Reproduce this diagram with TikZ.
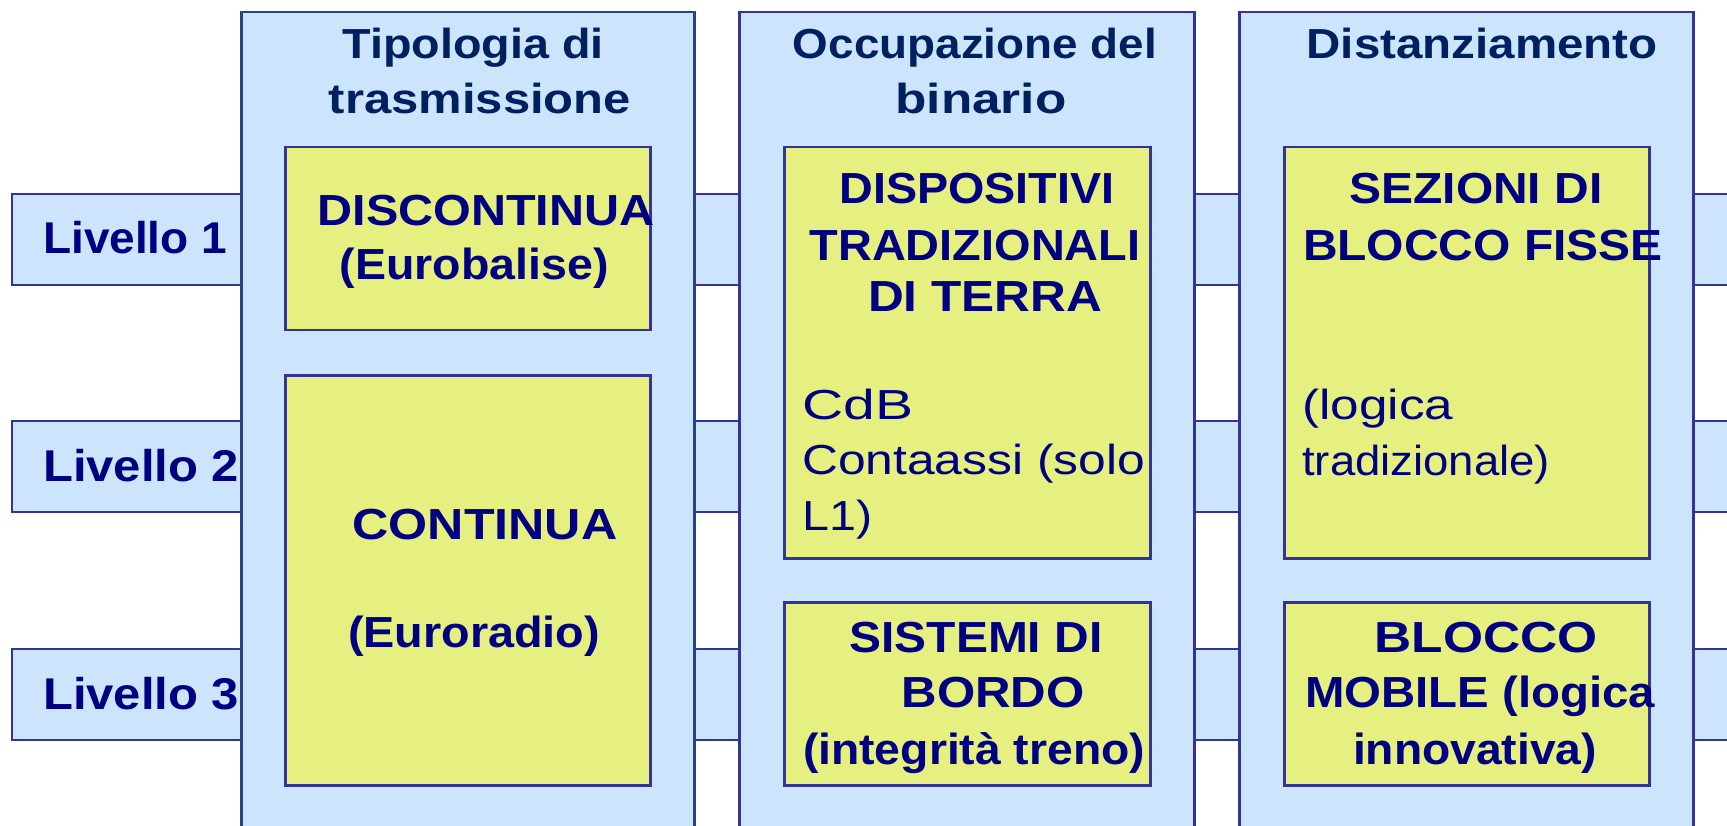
\documentclass[tikz,border=0pt]{standalone}
\usepackage{fontspec}
\setmainfont{Liberation Sans}
\usepackage{graphicx}
\definecolor{colfill}{RGB}{204,228,252}
\definecolor{ybox}{RGB}{230,240,128}
\definecolor{navytext}{RGB}{0,0,128}
\definecolor{titlecol}{RGB}{0,32,96}
\definecolor{boxdraw}{RGB}{51,51,153}
\definecolor{colone}{RGB}{38,70,130}
\newcommand{\fw}[2]{\resizebox{#1pt}{\height}{#2}}
\begin{document}
\begin{tikzpicture}[x=1pt,y=-1pt,
  band/.style={draw=boxdraw, fill=colfill, line width=2pt, rectangle, inner sep=0, anchor=north west, minimum width=1729, minimum height=91},
  column/.style={draw=boxdraw, fill=colfill, line width=2.5pt, rectangle, inner sep=0, anchor=north west, minimum height=840},
  ybx/.style={draw=boxdraw, fill=ybox, line width=2.5pt, rectangle, inner sep=0, anchor=north west, minimum width=365},
  ttl/.style={font=\bfseries\fontsize{42}{50}\selectfont, text=titlecol, inner sep=0, anchor=base},
  bx/.style={font=\bfseries\fontsize{43.5}{52}\selectfont, text=navytext, inner sep=0, anchor=base},
  rg/.style={font=\fontsize{42}{52}\selectfont, text=navytext, inner sep=0, anchor=base west},
  lv/.style={font=\bfseries\fontsize{44.5}{52}\selectfont, text=navytext, inner sep=0, anchor=base west}
]
\useasboundingbox (0,0) rectangle (1727,826);
\fill[white] (0,0) rectangle (1727,826);
\clip (0,0) rectangle (1727,826);
% level bands
\node[band] (band1) at (11,193) {};
\node[band] (band2) at (11,420) {};
\node[band] (band3) at (11,648) {};
% columns
\node[column, draw=colone, minimum width=453] (col1) at (240,11) {};
\node[column, minimum width=455] (col2) at (738,11) {};
\node[column, minimum width=454] (col3) at (1238,11) {};
% yellow boxes
\node[ybx, minimum height=183] (disc) at (284,146) {};
\node[ybx, minimum height=410] (cont) at (284,374) {};
\node[ybx, minimum width=366, minimum height=411] (disp) at (783,146) {};
\node[ybx, minimum width=366, minimum height=183] (sist) at (783,601) {};
\node[ybx, minimum height=411] (sez) at (1283,146) {};
\node[ybx, minimum height=183] (bm) at (1283,601) {};
% titles
\node[ttl] (t1a) at (473,59) {\fw{261}{Tipologia di}};
\node[ttl] (t1b) at (480,114) {\fw{302}{trasmissione}};
\node[ttl] (t2a) at (975,59) {\fw{364}{Occupazione del}};
\node[ttl] (t2b) at (981,114) {\fw{171}{binario}};
\node[ttl] (t3) at (1482,59) {\fw{351}{Distanziamento}};
% levels
\node[lv] (l1) at (43,254) {\fw{184}{Livello 1}};
\node[lv] (l2) at (43,481) {\fw{196}{Livello 2}};
\node[lv] (l3) at (43,709) {\fw{196}{Livello 3}};
% column 1
\node[bx] (d1) at (486,226) {\fw{337}{DISCONTINUA}};
\node[bx] (d2) at (474,280) {\fw{269}{(Eurobalise)}};
\node[bx] (c1) at (485,539) {\fw{265}{CONTINUA}};
\node[bx] (c2) at (474,647) {\fw{252}{(Euroradio)}};
% column 2
\node[bx] (p1) at (977,204) {\fw{275}{DISPOSITIVI}};
\node[bx] (p2) at (975,261) {\fw{331}{TRADIZIONALI}};
\node[bx] (p3) at (985,312) {\fw{234}{DI TERRA}};
\node[rg] (p4) at (802,419) {\fw{111}{CdB}};
\node[rg] (p5) at (802,474) {\fw{343}{Contaassi (solo}};
\node[rg] (p6) at (802,530) {\fw{70}{L1)}};
\node[bx] (s1) at (976,652) {\fw{253}{SISTEMI DI}};
\node[bx] (s2) at (993,707) {\fw{183}{BORDO}};
\node[bx] (s3) at (974,764) {\fw{342}{(integrità treno)}};
% column 3
\node[bx] (z1) at (1476,204) {\fw{253}{SEZIONI DI}};
\node[bx] (z2) at (1483,261) {\fw{360}{BLOCCO FISSE}};
\node[rg] (z3) at (1302,419) {\fw{151}{(logica}};
\node[rg] (z4) at (1302,475) {\fw{248}{tradizionale)}};
\node[bx] (m1) at (1486,652) {\fw{223}{BLOCCO}};
\node[bx] (m2) at (1480,707) {\fw{350}{MOBILE (logica}};
\node[bx] (m3) at (1475,764) {\fw{244}{innovativa)}};
\end{tikzpicture}
\end{document}
